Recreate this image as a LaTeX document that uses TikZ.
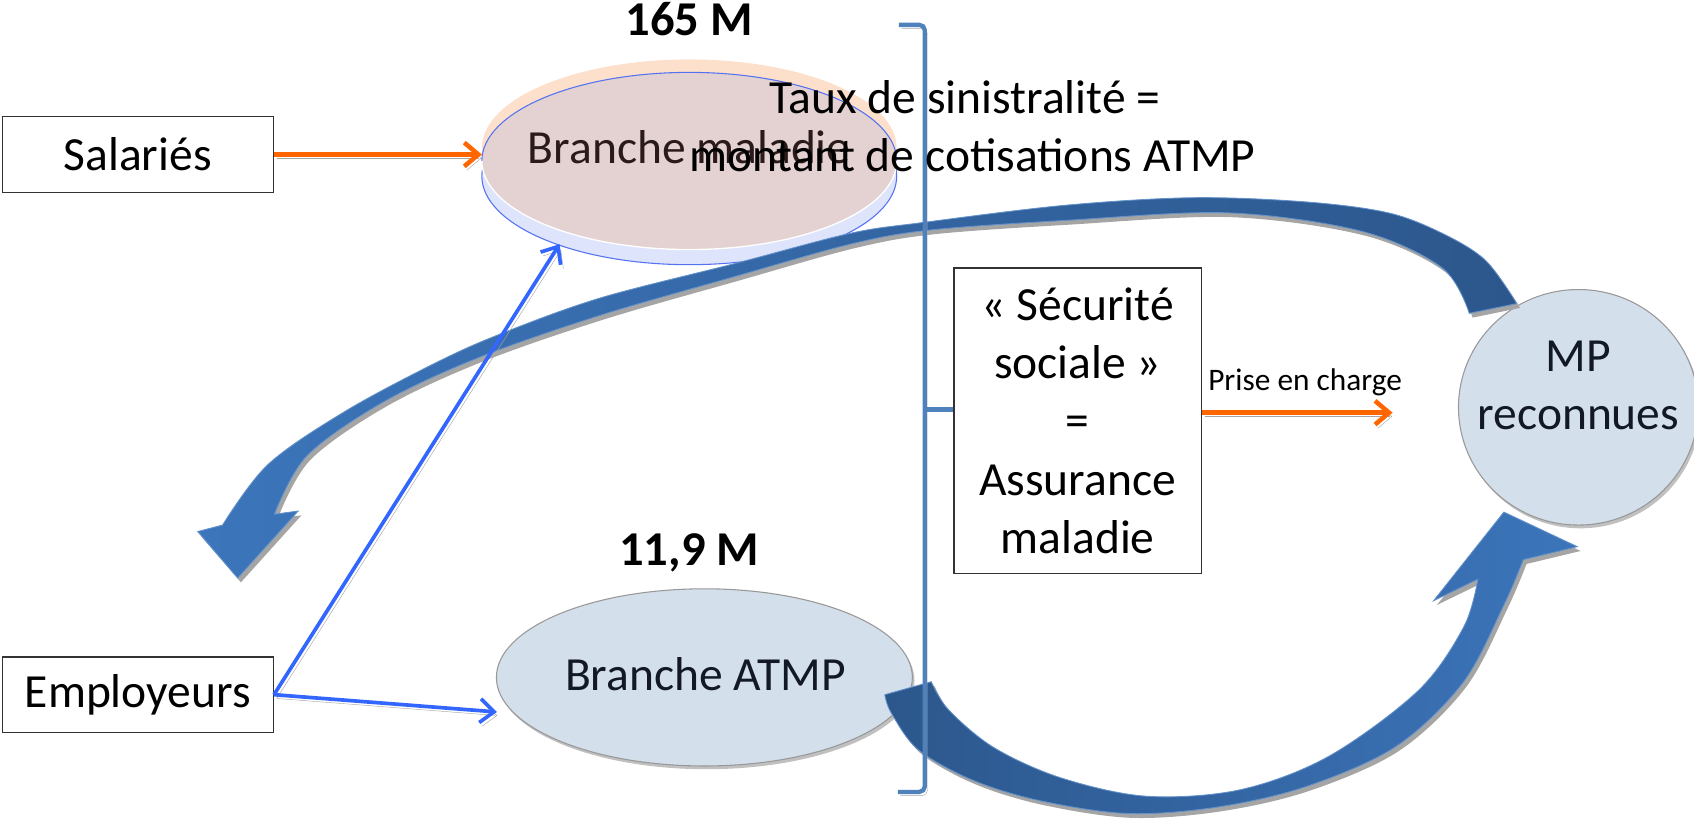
\documentclass[tikz,border=0pt]{standalone}
\usepackage{fontspec}
\setmainfont{Carlito}
\usetikzlibrary{arrows.meta,shapes.geometric}
\definecolor{orangeA}{RGB}{255,102,0}
\definecolor{blueL}{RGB}{51,102,255}
\definecolor{brk}{RGB}{79,129,189}
\definecolor{shd}{RGB}{165,165,165}
\definecolor{circfill}{RGB}{211,223,235}
\definecolor{peach}{RGB}{252,224,204}
\definecolor{pinkf}{RGB}{228,210,210}
\definecolor{rimf}{RGB}{222,228,252}
\definecolor{rimline}{RGB}{85,115,240}
\definecolor{arrD}{RGB}{44,87,140}
\definecolor{arrL}{RGB}{60,117,187}
\definecolor{mtext}{RGB}{42,26,26}
\definecolor{dtext}{RGB}{18,24,38}
\begin{document}
\begin{tikzpicture}[x=1pt,y=-1pt,
  txt/.style={font=\fontsize{44}{53.7}\selectfont, inner sep=0pt},
  btxt/.style={font=\fontsize{45}{54}\selectfont\bfseries, inner sep=0pt},
  stxt/.style={font=\fontsize{29}{35}\selectfont, inner sep=0pt},
  box/.style={draw=black!80, line width=1.2pt, fill=white, inner sep=0pt},
  lineshadow/.style={preaction={draw=shd, transform canvas={xshift=2.5pt,yshift=-3.5pt}}},
  fillshadow/.style={preaction={fill=shd, transform canvas={xshift=3pt,yshift=-4pt}}},
  orangeflow/.style={draw=orangeA, line width=4.2pt, lineshadow, -{Straight Barb[length=13pt,width=22pt]}},
  blueflow/.style={draw=blueL, line width=3.4pt, lineshadow, -{Straight Barb[length=13pt,width=22pt]}},
  bubble/.style={ellipse, fill=circfill, draw=gray!80, line width=1pt, inner sep=0pt,
     preaction={fill=shd!70, transform canvas={xshift=2pt,yshift=-3pt}}},
  bigarrow/.style={draw=arrL!80!white, line width=0.8pt, fillshadow}
]
\useasboundingbox (0,0) rectangle (1568,758);

% --- Branche maladie (3D disc) ---
\fill[peach] (638,137) ellipse [x radius=192pt, y radius=82pt];
\draw[rimline, line width=1pt, fill=rimf] (638,163) ellipse [x radius=192pt, y radius=82pt];
\fill[pinkf] (638,149) ellipse [x radius=192pt, y radius=82pt];
\draw[rimline, line width=1pt] (446,149) arc [start angle=180, end angle=0, x radius=192pt, y radius=82pt];
\draw[white, line width=1.2pt] (830,149) arc [start angle=0, end angle=-180, x radius=192pt, y radius=82pt];
\node[txt, text=mtext, anchor=base] (mal) at (638,151) {Branche maladie};

% --- Branche ATMP and MP reconnues ---
\node[bubble, minimum width=385pt, minimum height=164pt] (atmp) at (652,627) {};
\node[txt, text=dtext, anchor=base] (atmpt) at (653,639) {Branche ATMP};
\node[bubble, minimum width=222pt, minimum height=218pt] (mp) at (1461,377) {};
\node[txt, text=dtext, align=center] (mpt) at (1461,357) {MP\\reconnues};

% --- big curved arrow (top) ---
\shade[bigarrow, left color=arrL, right color=arrD]
  (1404,281) -- plot[smooth, tension=0.55] coordinates {(1404,281) (1375,241) (1335,216) (1285,197) (1210,187) (1105,183) (986,190) (854,206) (787,216) (680,244) (555,276) (461,310) (401,337) (319,381) (248,430) (206,486)}
  -- (183,492) -- (220,535) -- (276,473) -- (254,476)
  -- plot[smooth, tension=0.55] coordinates {(254,476) (284,422) (355,372) (443,331) (555,292) (680,256) (787,226) (860,213) (986,204) (1136,197) (1260,214) (1335,248) (1360,290)}
  -- cycle;

% --- big curved arrow (bottom) ---
\shade[bigarrow, left color=arrD, right color=arrL]
  (819,643) -- plot[smooth, tension=0.55] coordinates {(819,643) (825,660) (850,694) (900,722) (962,741) (1044,753) (1127,747) (1209,728) (1292,691) (1354,632) (1392,560) (1410,518)}
  -- (1460,506) -- (1392,474) -- (1327,556) -- (1368,536)
  -- plot[smooth, tension=0.55] coordinates {(1368,536) (1355,580) (1313,639) (1230,700) (1148,731) (1061,737) (982,720) (920,692) (878,657) (862,631)}
  -- cycle;

% --- boxes ---
\node[box, txt, minimum width=251pt, minimum height=70pt] (sal) at (127.5,143) {Salariés};
\node[box, txt, minimum width=251pt, minimum height=70pt] (emp) at (127.5,643) {Employeurs};
\node[box, txt, align=center, minimum width=229pt, minimum height=283pt] (secu) at (997.5,389.5)
  {«~Sécurité\\sociale~»\\=\\Assurance\\maladie};

% --- connectors ---
\coordinate (malW) at (446,143);
\coordinate (malB) at (518,226);
\coordinate (atmpW) at (460,659);
\coordinate (pe) at (1289,382);
\draw[orangeflow] (sal.east) -- (malW);
\draw[blueflow] (emp.east) -- (malB);
\draw[blueflow] (emp.east) -- (atmpW);
\draw[orangeflow] (secu.east |- pe) -- (pe);
\node[stxt, anchor=base] (pec) at (1208,361) {Prise en charge};

% --- bracket ---
\draw[brk, line width=4pt, rounded corners=5pt, lineshadow] (832,23) -- (856,23) -- (856,733) -- (831,733);
\draw[brk, line width=4pt] (856,379) -- (secu.west |- 0,379);

% --- texts ---
\node[btxt, anchor=base] (n165) at (638,33) {165 M};
\node[btxt, anchor=base] (n119) at (638,523) {11,9 M};
\node[txt, anchor=base] (tx1) at (893,105) {Taux de sinistralité =};
\node[txt, anchor=base] (tx2) at (900,159) {montant de cotisations ATMP};
\end{tikzpicture}
\end{document}
